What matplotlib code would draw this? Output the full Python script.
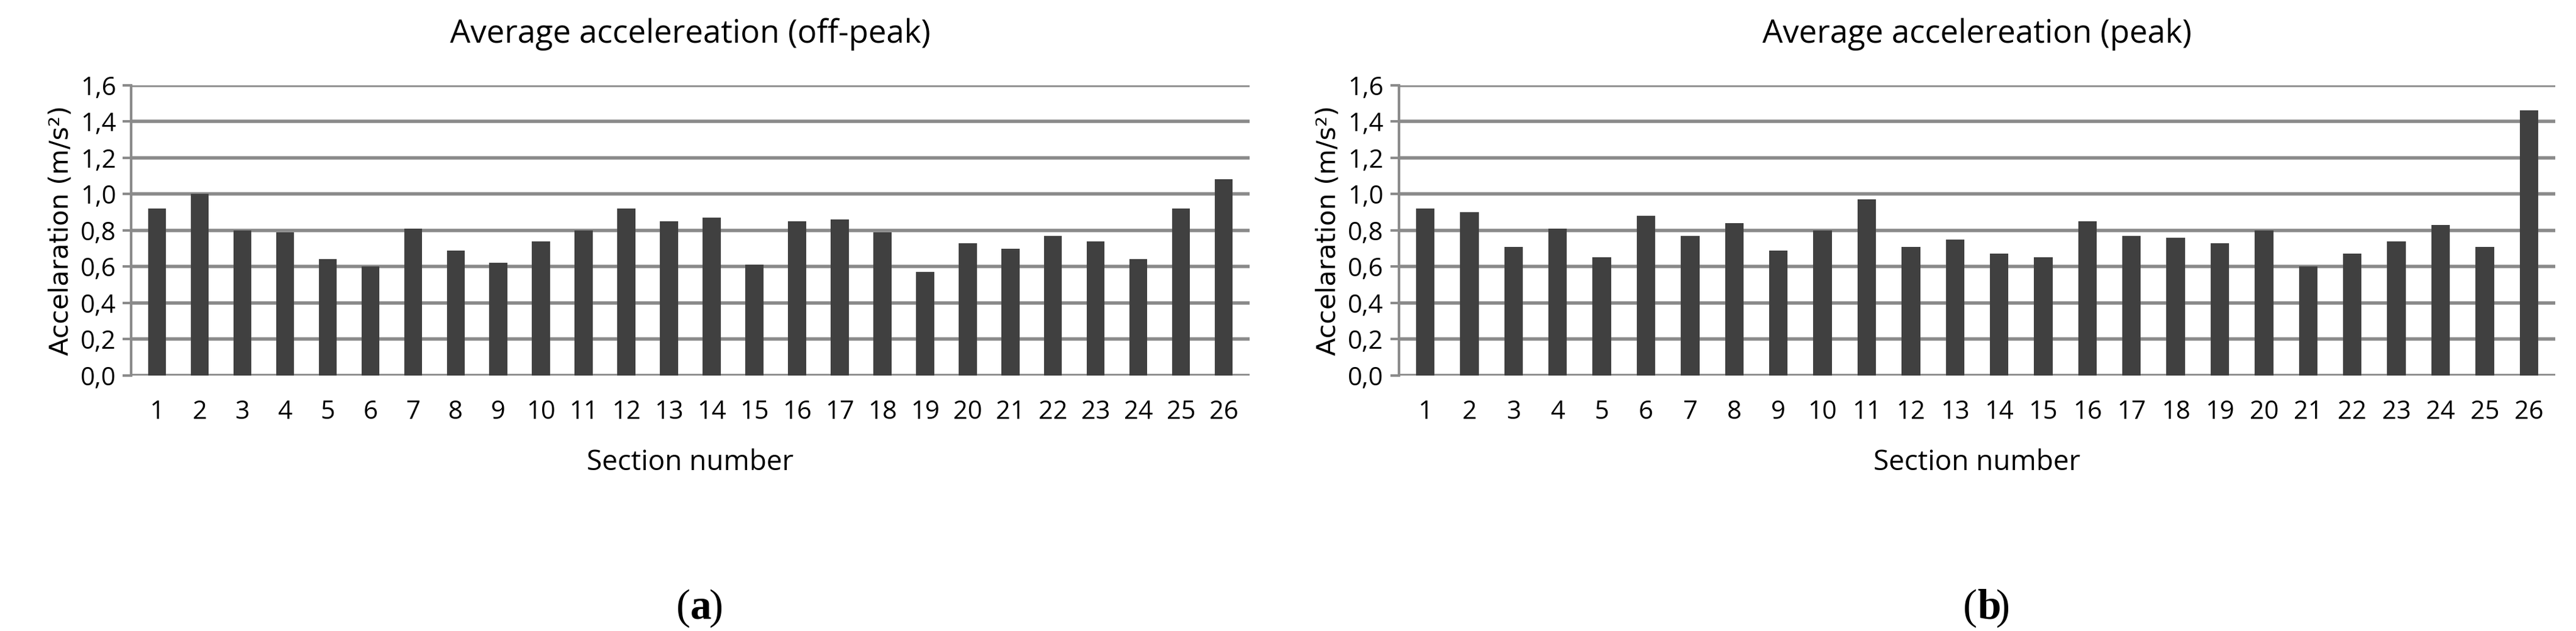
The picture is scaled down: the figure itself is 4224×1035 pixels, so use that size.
import matplotlib
matplotlib.use("Agg")
import matplotlib.pyplot as plt
import numpy as np

sections = list(range(1, 27))
offpeak = [0.92, 1.00, 0.80, 0.79, 0.64, 0.60, 0.81, 0.69, 0.62, 0.74, 0.80, 0.92, 0.85,
           0.87, 0.61, 0.85, 0.86, 0.79, 0.57, 0.73, 0.70, 0.77, 0.74, 0.64, 0.92, 1.08]
peak = [0.92, 0.90, 0.71, 0.81, 0.65, 0.88, 0.77, 0.84, 0.69, 0.80, 0.97, 0.71, 0.75,
        0.67, 0.65, 0.85, 0.77, 0.76, 0.73, 0.80, 0.60, 0.67, 0.74, 0.83, 0.71, 1.46]
titles = ["Average accelereation (off-peak)", "Average accelereation (peak)"]
panel_labels = ["a", "b"]
yticks = [0.0, 0.2, 0.4, 0.6, 0.8, 1.0, 1.2, 1.4, 1.6]

plt.rcParams["font.family"] = ["Liberation Sans Narrow", "Open Sans", "DejaVu Sans"]

fig = plt.figure(figsize=(42.24, 10.35), dpi=100)
positions = [[0.051, 0.405, 0.434, 0.46], [0.543, 0.405, 0.449, 0.46]]
grid_c = "#8a8a8a"

for pos, vals, title, lab in zip(positions, [offpeak, peak], titles, panel_labels):
    ax = fig.add_axes(pos)
    x = np.arange(len(sections))
    ax.bar(x, vals, width=0.42, color="#404040", zorder=3)
    ax.set_xlim(-0.6, len(sections) - 0.4)
    ax.set_ylim(0, 1.6)
    ax.set_yticks(yticks)
    ax.set_yticklabels([f"{v:.1f}".replace(".", ",") for v in yticks])
    ax.set_xticks(x)
    ax.set_xticklabels([str(s) for s in sections])
    ax.grid(axis="y", color=grid_c, linewidth=4, zorder=0)
    for s in ["top", "right", "bottom"]:
        ax.spines[s].set_visible(False)
    ax.spines["left"].set_color(grid_c)
    ax.spines["left"].set_linewidth(3)
    ax.tick_params(axis="y", length=10, width=3, color=grid_c, labelsize=30, pad=8)
    ax.tick_params(axis="x", length=0, labelsize=30, pad=28)
    ax.set_title(title, fontsize=38, pad=50)
    ax.set_xlabel("Section number", fontsize=33, labelpad=28)
    ax.set_ylabel("Accelaration (m/s²)", fontsize=31, family=["DejaVu Sans"], labelpad=8)
    cx = pos[0] + pos[2] / 2
    y0 = 0.005
    fig.text(cx, y0, "(", fontsize=50, family=["Liberation Serif"], ha="right", va="bottom")
    fig.text(cx, y0, lab, fontsize=50, family=["Liberation Serif"], weight="bold",
             ha="left", va="bottom")
    fig.text(cx + 0.0072, y0, ")", fontsize=50, family=["Liberation Serif"], ha="left", va="bottom")

fig.savefig("out.png", dpi=100, facecolor="white")
